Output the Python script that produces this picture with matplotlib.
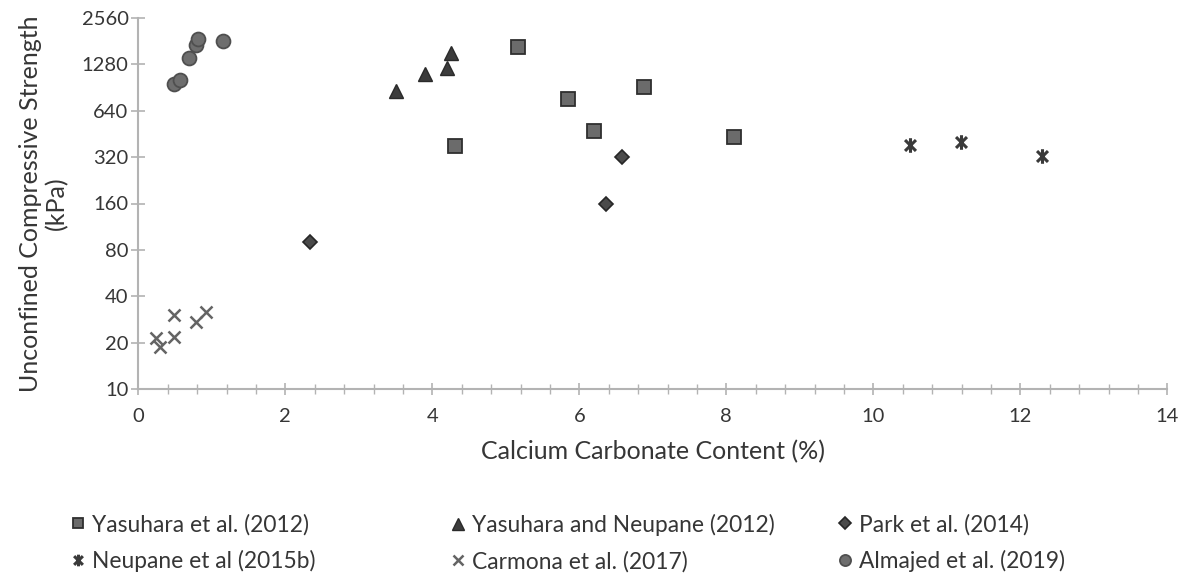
import matplotlib
matplotlib.use("Agg")
import matplotlib.pyplot as plt
from matplotlib.path import Path
from matplotlib.ticker import FixedLocator, FixedFormatter, MultipleLocator

# --- data: calcium carbonate content (%) vs. UCS (kPa) ---
yasuhara_x = [5.17, 4.31, 5.85, 6.88, 6.20, 8.10]
yasuhara_y = [1663, 379, 758, 906, 474, 433]

yas_neu_x = [3.50, 3.90, 4.20, 4.25]
yas_neu_y = [858, 1106, 1209, 1513]

park_x = [2.33, 6.37, 6.58]
park_y = [90, 160, 319]

neupane_x = [10.50, 11.19, 12.29]
neupane_y = [383, 399, 326]

carmona_x = [0.24, 0.295, 0.486, 0.486, 0.785, 0.921]
carmona_y = [21.4, 18.7, 30.2, 21.7, 27.2, 31.6]

almajed_x = [0.486, 0.567, 0.69, 0.785, 0.812, 1.152]
almajed_y = [952, 1011, 1405, 1705, 1865, 1810]

y_ticks = [10, 20, 40, 80, 160, 320, 640, 1280, 2560]
x_ticks = [0, 2, 4, 6, 8, 10, 12, 14]

labels = ["Yasuhara et al. (2012)", "Yasuhara and Neupane (2012)", "Park et al. (2014)",
          "Neupane et al (2015b)", "Carmona et al. (2017)", "Almajed et al. (2019)"]

plt.rcParams["font.family"] = ["Lato", "DejaVu Sans"]
TEXT = "#363636"
AXIS = "#b3b3b3"

# asterisk-like star: vertical bar plus a diagonal cross
star = Path([(0, -1), (0, 1), (-0.75, -0.75), (0.75, 0.75), (-0.75, 0.75), (0.75, -0.75)],
            [Path.MOVETO, Path.LINETO, Path.MOVETO, Path.LINETO, Path.MOVETO, Path.LINETO])

W, H = 1182, 575
fig = plt.figure(figsize=(W / 100, H / 100), dpi=100)
x0, x1, y_top, y_bot = 138.3, 1167.3, 18, 389
ax = fig.add_axes([x0 / W, 1 - y_bot / H, (x1 - x0) / W, (y_bot - y_top) / H])

h1, = ax.plot(yasuhara_x, yasuhara_y, ls="none", marker="s", ms=9.5,
              mfc="#6b6b6b", mec="#2f2f2f", mew=1.3, label=labels[0])
h2, = ax.plot(yas_neu_x, yas_neu_y, ls="none", marker="^", ms=10,
              mfc="#3c3c3c", mec="#2a2a2a", mew=1.0, label=labels[1])
h3, = ax.plot(park_x, park_y, ls="none", marker="D", ms=7.5,
              mfc="#4a4a4a", mec="#262626", mew=1.2, label=labels[2])
h4, = ax.plot(neupane_x, neupane_y, ls="none", marker=star, ms=10.5,
              mfc="none", mec="#3a3a3a", mew=2.2, label=labels[3])
h5, = ax.plot(carmona_x, carmona_y, ls="none", marker="x", ms=9,
              mec="#646464", mew=1.8, label=labels[4])
h6, = ax.plot(almajed_x, almajed_y, ls="none", marker="o", ms=10,
              mfc="#6e6e6e", mec="#4f4f4f", mew=1.3, label=labels[5])

ax.set_xlim(0, 14)
ax.set_yscale("log", base=2)
ax.set_ylim(10, 2560)
ax.yaxis.set_major_locator(FixedLocator(y_ticks))
ax.yaxis.set_major_formatter(FixedFormatter([str(v) for v in y_ticks]))
ax.yaxis.set_minor_locator(FixedLocator([]))
ax.xaxis.set_major_locator(FixedLocator(x_ticks))
ax.xaxis.set_major_formatter(FixedFormatter([str(v) for v in x_ticks]))
ax.xaxis.set_minor_locator(MultipleLocator(0.4))

for side in ("top", "right"):
    ax.spines[side].set_visible(False)
for side in ("left", "bottom"):
    ax.spines[side].set_color(AXIS)
    ax.spines[side].set_linewidth(1.5)

ax.tick_params(axis="y", which="major", direction="inout", length=10, width=1.2,
               color=AXIS, labelsize=14.5, labelcolor=TEXT, pad=2)
ax.tick_params(axis="x", which="major", direction="inout", length=9, width=1.2,
               color=AXIS, labelsize=14.5, labelcolor=TEXT, pad=9)
ax.tick_params(axis="x", which="minor", direction="inout", length=7, width=1.0,
               color=AXIS)

ax.set_xlabel("Calcium Carbonate Content (%)", fontsize=18, color=TEXT, labelpad=11)
ax.set_ylabel("Unconfined Compressive Strength\n(kPa)", fontsize=18, color=TEXT,
              linespacing=1.1, labelpad=10)
for lab in ax.get_xticklabels() + ax.get_yticklabels():
    lab.set_clip_on(False)

# legend laid out as three columns of two entries each
col_x = [70, 450, 837]
row_y = 543
columns = [(h1, h4), (h2, h5), (h3, h6)]
for cx, handles in zip(col_x, columns):
    leg = fig.legend(handles=list(handles), loc="center left",
                     bbox_to_anchor=(cx / W, 1 - row_y / H), frameon=False,
                     fontsize=16.4, handlelength=0.7, handletextpad=0.25,
                     labelspacing=0.66, borderpad=0, borderaxespad=0,
                     markerscale=0.8)
    for t in leg.get_texts():
        t.set_color(TEXT)

fig.savefig("out.png", dpi=100)
